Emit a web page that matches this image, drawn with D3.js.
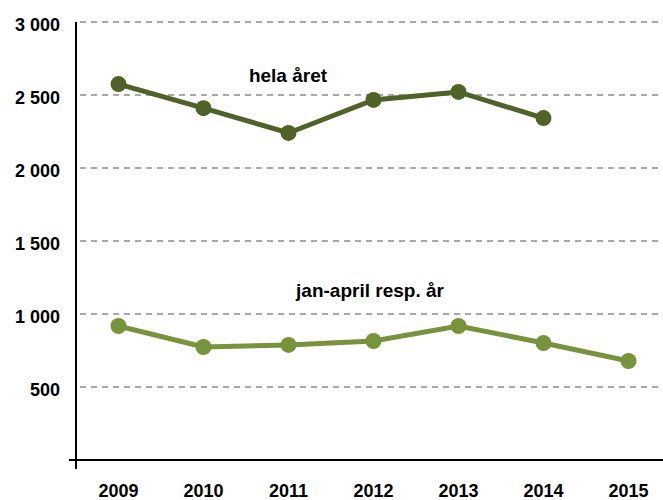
<!DOCTYPE html>
<html>
<head>
  <meta charset="utf-8">
  <script src="https://d3js.org/d3.v7.min.js"></script>
  <style>
    body { margin: 0; background: #fff; }
    text { font-family: "Liberation Sans", Arial, sans-serif; font-weight: bold; fill: #000; }
    .grid line { stroke: #8c8c8c; stroke-width: 1.4; stroke-dasharray: 6 5; }
  </style>
</head>
<body>
  <script>
    var years = ["2009", "2010", "2011", "2012", "2013", "2014", "2015"];
    var helaAret = [2575, 2410, 2240, 2466, 2521, 2342, null];
    var janApril = [918, 774, 788, 815, 918, 801, 678];
    var yTicks = [500, 1000, 1500, 2000, 2500, 3000];
    var seriesLabels = ["hela året", "jan-april resp. år"];

    var W = 663, H = 500;
    var margin = {top: 22, left: 76, bottom: 40};
    var plotH = H - margin.top - margin.bottom;

    var svg = d3.select("body").append("svg")
        .attr("width", W)
        .attr("height", H);

    var x = d3.scaleBand()
        .domain(years)
        .range([margin.left, margin.left + 85 * years.length]);
    var y = d3.scaleLinear()
        .domain([0, 3000])
        .range([margin.top + plotH, margin.top]);

    var cx = d => x(d) + x.bandwidth() / 2;

    // dashed gridlines
    svg.append("g").attr("class", "grid")
      .selectAll("line")
      .data(yTicks)
      .enter().append("line")
        .attr("x1", margin.left + 4)
        .attr("x2", W)
        .attr("y1", d => y(d))
        .attr("y2", d => y(d));

    // y tick labels
    var fmt = d => d3.format(",")(d).replace(",", " ");
    svg.append("g")
      .selectAll("text")
      .data(yTicks)
      .enter().append("text")
        .attr("x", 60)
        .attr("y", d => y(d) + 3)
        .attr("dy", "0.35em")
        .attr("text-anchor", "end")
        .style("font-size", "18px")
        .text(fmt);

    // axes lines
    svg.append("line")
        .attr("x1", margin.left).attr("x2", margin.left)
        .attr("y1", y(3000)).attr("y2", y(0) + 9)
        .attr("stroke", "#000").attr("stroke-width", 2);
    svg.append("line")
        .attr("x1", margin.left - 7).attr("x2", W)
        .attr("y1", y(0)).attr("y2", y(0))
        .attr("stroke", "#000").attr("stroke-width", 2);

    // x labels
    svg.append("g")
      .selectAll("text")
      .data(years)
      .enter().append("text")
        .attr("x", cx)
        .attr("y", 497)
        .attr("text-anchor", "middle")
        .style("font-size", "18px")
        .text(d => d);

    function drawSeries(vals, color) {
      var pts = years.map((yr, i) => ({yr: yr, v: vals[i]})).filter(p => p.v != null);
      var line = d3.line().x(p => cx(p.yr)).y(p => y(p.v));
      svg.append("path")
          .datum(pts)
          .attr("d", line)
          .attr("fill", "none")
          .attr("stroke", color)
          .attr("stroke-width", 5);
      svg.append("g")
        .selectAll("circle")
        .data(pts)
        .enter().append("circle")
          .attr("cx", p => cx(p.yr))
          .attr("cy", p => y(p.v))
          .attr("r", 8)
          .attr("fill", color);
    }

    drawSeries(helaAret, "#4f6228");
    drawSeries(janApril, "#77933c");

    svg.append("text")
        .attr("x", 288).attr("y", 82)
        .attr("text-anchor", "middle")
        .style("font-size", "19px")
        .text(seriesLabels[0]);
    svg.append("text")
        .attr("x", 370).attr("y", 297)
        .attr("text-anchor", "middle")
        .style("font-size", "19px")
        .text(seriesLabels[1]);
  </script>
</body>
</html>
